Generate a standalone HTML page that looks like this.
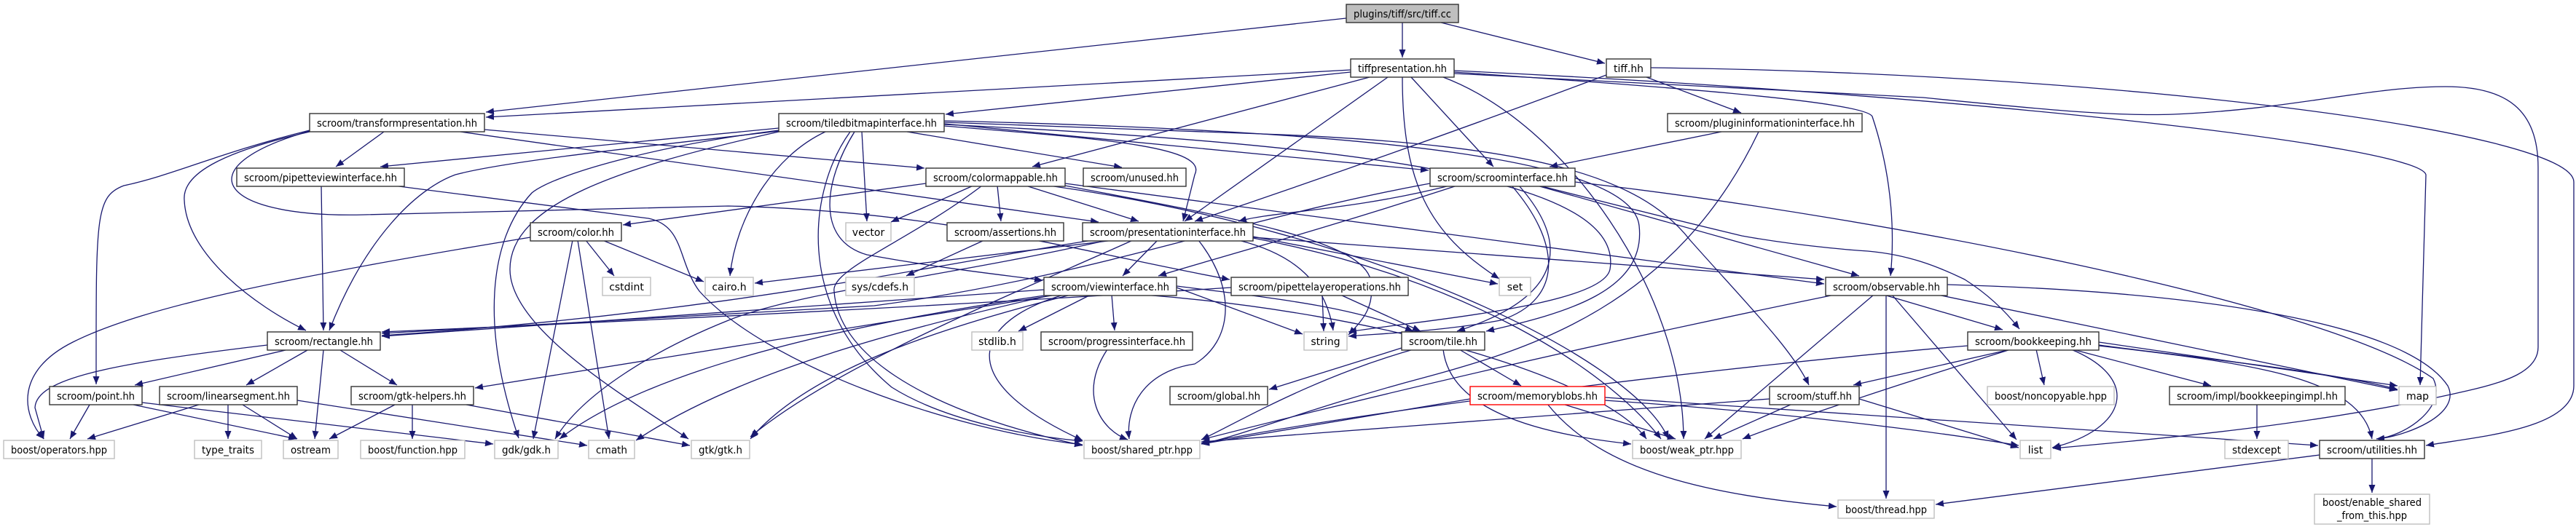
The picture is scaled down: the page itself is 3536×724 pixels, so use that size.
<!DOCTYPE html>
<html><head><meta charset="utf-8"><style>
html,body{margin:0;padding:0;background:#fff}
svg{display:block}
text{font-family:"DejaVu Sans","Liberation Sans",sans-serif;font-size:14px;fill:#000}
.e{fill:none;stroke:#191970;stroke-width:1.3;marker-end:url(#a)}
.n{fill:#fff;stroke:#333;stroke-width:1.4}
.g{fill:#fff;stroke:#bfbfbf;stroke-width:1.4}
</style></head><body>
<svg width="3536" height="724" viewBox="0 0 3536 724" xmlns="http://www.w3.org/2000/svg">
<defs><marker id="a" markerUnits="userSpaceOnUse" markerWidth="12" markerHeight="9" refX="11" refY="4.5" orient="auto"><path d="M0,0 L11,4.5 L0,9 z" fill="#191970"/></marker></defs>
<g>
<path class="e" d="M1848 25 L667 154"/>
<path class="e" d="M1925 31 L1925 79"/>
<path class="e" d="M1978 31 L2203 87"/>
<path class="e" d="M1854 96 L667 161"/>
<path class="e" d="M1854 99 L1298 157"/>
<path class="e" d="M1880 106 L1417 229"/>
<path class="e" d="M1905 106 L1626 304"/>
<path class="e" d="M1937 106 L2050 229"/>
<path class="e" d="M1925 106 C1925 250 1960 320 2058 383"/>
<path class="e" d="M1981 106 C2150 170 2310 400 2311 603"/>
<path class="e" d="M1996 99 C2300 120 2560 140 2570 160 C2600 250 2600 330 2595 379"/>
<path class="e" d="M1996 97 C2700 130 3320 200 3330 240 L3322 529"/>
<path class="e" d="M2266 93 C2900 100 3533 180 3533 250 L3533 530 C3533 590 3400 600 3330 612"/>
<path class="e" d="M1996 101 L2640 134 C2800 150 2900 160 2984 157 C3150 150 3250 119 3357 119 C3440 119 3484 150 3484 230 L3484 477 C3484 510 3440 525 3386 537 C3200 580 3000 600 2818 616"/>
<path class="e" d="M2205 103 C2000 180 1800 250 1640 304"/>
<path class="e" d="M2260 106 L2390 155"/>
<path class="e" d="M2363 181 L2127 229"/>
<path class="e" d="M2414 181 C2300 420 2100 480 1950 520 C1800 560 1700 600 1649 610"/>
<path class="e" d="M527 181 L461 229"/>
<path class="e" d="M425 179 C300 210 240 240 170 255 C130 270 132 300 132 528"/>
<path class="e" d="M425 181 C300 210 250 240 253 275 C256 350 350 420 420 454"/>
<path class="e" d="M665 178 L1269 231"/>
<path class="e" d="M632 181 L1508 305"/>
<path class="e" d="M425 180 C250 230 300 300 500 295 L1000 283 C1300 290 1500 350 1688 384"/>
<path class="e" d="M441 255 L444 454"/>
<path class="e" d="M540 255 L890 300 C940 310 930 360 960 400 C1050 500 1300 590 1486 611"/>
<path class="e" d="M1069 176 L522 229"/>
<path class="e" d="M1069 180 C900 200 700 220 625 240 C570 260 500 330 452 454"/>
<path class="e" d="M1069 179 C900 200 760 240 730 265 C670 330 660 450 712 602"/>
<path class="e" d="M1069 181 C850 230 700 280 700 370 C700 450 850 540 945 603"/>
<path class="e" d="M1133 181 C1060 215 1010 300 1002 379"/>
<path class="e" d="M1183 181 L1190 304"/>
<path class="e" d="M1167 181 C1110 260 1090 420 1224 532 C1300 580 1420 600 1486 606"/>
<path class="e" d="M1173 181 C1130 250 1120 330 1190 350 C1300 370 1380 378 1431 385"/>
<path class="e" d="M1245 181 L1540 230"/>
<path class="e" d="M1296 173 C1500 190 1660 200 1640 240 L1624 304"/>
<path class="e" d="M1296 170 L1961 234"/>
<path class="e" d="M1296 168 L1760 185 C2100 200 2250 240 2320 330 C2400 420 2460 480 2483 529"/>
<path class="e" d="M1296 171 C1900 200 2230 250 2210 370 C2200 420 1950 440 1851 456"/>
<path class="e" d="M1296 166 C1900 180 2240 220 2250 310 C2260 400 2150 430 2040 455"/>
<path class="e" d="M1271 252 L855 309"/>
<path class="e" d="M1336 255 L1223 305"/>
<path class="e" d="M1369 255 L1374 304"/>
<path class="e" d="M1408 255 L1563 304"/>
<path class="e" d="M1348 255 C1250 330 1140 370 1145 400 C1150 480 1250 560 1486 612"/>
<path class="e" d="M1462 252 L2504 390"/>
<path class="e" d="M1440 255 C1900 320 2250 500 2290 603"/>
<path class="e" d="M1462 255 C1700 300 1860 330 1880 380 C1890 420 1870 440 1851 460"/>
<path class="e" d="M728 326 C400 380 200 420 100 470 C20 510 30 570 60 603"/>
<path class="e" d="M804 330 L843 379"/>
<path class="e" d="M786 330 L732 603"/>
<path class="e" d="M793 330 L836 603"/>
<path class="e" d="M827 330 L966 387"/>
<path class="e" d="M1351 330 L1244 379"/>
<path class="e" d="M1529 330 L1036 389"/>
<path class="e" d="M1589 330 L1541 379"/>
<path class="e" d="M1500 330 C1300 360 1000 430 524 461"/>
<path class="e" d="M1720 325 L2056 390"/>
<path class="e" d="M1720 326 L2504 384"/>
<path class="e" d="M1720 327 C2000 380 2200 500 2280 603"/>
<path class="e" d="M1645 330 C1700 400 1690 470 1640 500 C1570 510 1545 560 1550 603"/>
<path class="e" d="M1700 330 C1780 350 1820 390 1830 454"/>
<path class="e" d="M1555 330 C1400 400 1150 500 1030 600"/>
<path class="e" d="M1520 330 C1300 380 1100 400 1000 440 C900 480 800 540 762 603"/>
<path class="e" d="M1990 255 C1850 290 1750 290 1700 304"/>
<path class="e" d="M2000 255 C1800 320 1650 360 1590 379"/>
<path class="e" d="M2110 255 L2552 379"/>
<path class="e" d="M2113 255 C2250 290 2391 324 2391 324 C2480 340 2564 345 2564 345 C2620 350 2660 366 2697 384 C2730 405 2755 430 2772 452"/>
<path class="e" d="M2162 250 C2600 300 3200 420 3340 520 C3360 560 3300 600 3262 603"/>
<path class="e" d="M2075 255 C2140 330 2150 410 2060 440 C1980 455 1900 458 1851 462"/>
<path class="e" d="M2085 255 C2160 340 2140 410 2000 455"/>
<path class="e" d="M1963 252 C1700 300 1500 380 1200 420 L524 458"/>
<path class="e" d="M1497 405 L1398 455"/>
<path class="e" d="M1526 405 L1530 454"/>
<path class="e" d="M1615 395 L1788 459"/>
<path class="e" d="M1615 393 C1750 410 1850 420 1940 455"/>
<path class="e" d="M1460 405 C1340 440 1300 520 1486 605"/>
<path class="e" d="M1433 398 L524 462"/>
<path class="e" d="M1450 405 L652 533"/>
<path class="e" d="M1470 405 C1250 460 1100 520 1030 603"/>
<path class="e" d="M1440 405 C1200 440 900 500 768 603"/>
<path class="e" d="M1445 405 C1200 460 1000 520 873 605"/>
<path class="e" d="M1570 405 C1900 430 2200 520 2260 603"/>
<path class="e" d="M1520 480 C1480 540 1510 590 1548 604"/>
<path class="e" d="M1815 405 L1817 455"/>
<path class="e" d="M1840 405 L1950 455"/>
<path class="e" d="M1690 395 C1300 420 900 440 524 456"/>
<path class="e" d="M1924 478 L1742 535"/>
<path class="e" d="M2003 480 L2088 530"/>
<path class="e" d="M1940 480 C1800 520 1700 580 1649 604"/>
<path class="e" d="M1981 480 C1990 560 2100 595 2239 610"/>
<path class="e" d="M2018 548 L1649 610"/>
<path class="e" d="M2145 555 L2300 603"/>
<path class="e" d="M2124 555 C2200 650 2350 680 2521 696"/>
<path class="e" d="M2203 546 L3182 612"/>
<path class="e" d="M2203 550 C2500 570 2700 600 2771 612"/>
<path class="e" d="M2429 548 L1649 607"/>
<path class="e" d="M2460 555 L2352 603"/>
<path class="e" d="M2552 548 L2771 615"/>
<path class="e" d="M2586 405 L2749 453"/>
<path class="e" d="M2572 405 L2340 603"/>
<path class="e" d="M2589 405 L2589 685"/>
<path class="e" d="M2597 405 L2768 604"/>
<path class="e" d="M2673 391 C3000 400 3300 440 3360 530 C3380 570 3300 600 3262 603"/>
<path class="e" d="M2660 405 L3291 536"/>
<path class="e" d="M2518 405 C2200 470 1900 540 1649 604"/>
<path class="e" d="M2795 480 L2806 529"/>
<path class="e" d="M2845 480 L3035 530"/>
<path class="e" d="M2881 470 L3291 530"/>
<path class="e" d="M2881 474 C3000 490 3200 510 3291 535"/>
<path class="e" d="M2843 480 C2940 520 2920 590 2817 615"/>
<path class="e" d="M2881 475 C3100 500 3240 520 3256 603"/>
<path class="e" d="M2760 480 L2544 529"/>
<path class="e" d="M2701 475 C2400 500 1900 560 1649 609"/>
<path class="e" d="M2760 480 C2600 530 2450 580 2392 603"/>
<path class="e" d="M3098 555 L3098 603"/>
<path class="e" d="M3184 625 L2657 693"/>
<path class="e" d="M3256 630 L3256 677"/>
<path class="e" d="M367 474 C150 500 50 520 48 560 L60 603"/>
<path class="e" d="M392 481 L185 529"/>
<path class="e" d="M422 481 L338 529"/>
<path class="e" d="M444 481 L432 603"/>
<path class="e" d="M467 481 L545 529"/>
<path class="e" d="M123 556 L96 603"/>
<path class="e" d="M183 556 L407 603"/>
<path class="e" d="M195 553 L677 610"/>
<path class="e" d="M273 556 L120 603"/>
<path class="e" d="M313 556 L313 603"/>
<path class="e" d="M333 556 L408 603"/>
<path class="e" d="M408 550 L806 612"/>
<path class="e" d="M542 556 L452 603"/>
<path class="e" d="M566 556 L566 603"/>
<path class="e" d="M640 556 L947 612"/>
</g>
<g>
<rect x="1848" y="6" width="154" height="25" fill="#bfbfbf" stroke="#333" stroke-width="1.4"/><text x="1925" y="24" text-anchor="middle" textLength="134" lengthAdjust="spacingAndGlyphs">plugins/tiff/src/tiff.cc</text>
<rect class="n" x="1854" y="81" width="142" height="25"/><text x="1925" y="99" text-anchor="middle" textLength="122" lengthAdjust="spacingAndGlyphs">tiffpresentation.hh</text>
<rect class="n" x="2205" y="81" width="61" height="25"/><text x="2235.5" y="99" text-anchor="middle" textLength="41" lengthAdjust="spacingAndGlyphs">tiff.hh</text>
<rect class="n" x="2289" y="156" width="267" height="25"/><text x="2422.5" y="174" text-anchor="middle" textLength="247" lengthAdjust="spacingAndGlyphs">scroom/plugininformationinterface.hh</text>
<rect class="n" x="425" y="156" width="240" height="25"/><text x="545" y="174" text-anchor="middle" textLength="220" lengthAdjust="spacingAndGlyphs">scroom/transformpresentation.hh</text>
<rect class="n" x="1069" y="156" width="227" height="25"/><text x="1182.5" y="174" text-anchor="middle" textLength="207" lengthAdjust="spacingAndGlyphs">scroom/tiledbitmapinterface.hh</text>
<rect class="n" x="325" y="231" width="230" height="25"/><text x="440" y="249" text-anchor="middle" textLength="210" lengthAdjust="spacingAndGlyphs">scroom/pipetteviewinterface.hh</text>
<rect class="n" x="1271" y="231" width="191" height="25"/><text x="1366.5" y="249" text-anchor="middle" textLength="171" lengthAdjust="spacingAndGlyphs">scroom/colormappable.hh</text>
<rect class="n" x="1487" y="231" width="141" height="25"/><text x="1557.5" y="249" text-anchor="middle" textLength="121" lengthAdjust="spacingAndGlyphs">scroom/unused.hh</text>
<rect class="n" x="1963" y="231" width="199" height="25"/><text x="2062.5" y="249" text-anchor="middle" textLength="179" lengthAdjust="spacingAndGlyphs">scroom/scroominterface.hh</text>
<rect class="g" x="1161" y="306" width="62" height="25"/><text x="1192" y="324" text-anchor="middle">vector</text>
<rect class="n" x="1300" y="306" width="160" height="25"/><text x="1380" y="324" text-anchor="middle" textLength="140" lengthAdjust="spacingAndGlyphs">scroom/assertions.hh</text>
<rect class="n" x="1486" y="306" width="234" height="25"/><text x="1603" y="324" text-anchor="middle" textLength="214" lengthAdjust="spacingAndGlyphs">scroom/presentationinterface.hh</text>
<rect class="n" x="728" y="306" width="125" height="25"/><text x="790.5" y="324" text-anchor="middle" textLength="105" lengthAdjust="spacingAndGlyphs">scroom/color.hh</text>
<rect class="g" x="827" y="381" width="66" height="25"/><text x="860" y="399" text-anchor="middle">cstdint</text>
<rect class="g" x="968" y="381" width="66" height="25"/><text x="1001" y="399" text-anchor="middle">cairo.h</text>
<rect class="g" x="1161" y="381" width="94" height="25"/><text x="1208" y="399" text-anchor="middle">sys/cdefs.h</text>
<rect class="n" x="1433" y="381" width="182" height="25"/><text x="1524" y="399" text-anchor="middle" textLength="162" lengthAdjust="spacingAndGlyphs">scroom/viewinterface.hh</text>
<rect class="n" x="1690" y="381" width="243" height="25"/><text x="1811.5" y="399" text-anchor="middle" textLength="223" lengthAdjust="spacingAndGlyphs">scroom/pipettelayeroperations.hh</text>
<rect class="g" x="2058" y="381" width="43" height="25"/><text x="2079.5" y="399" text-anchor="middle">set</text>
<rect class="n" x="2506" y="381" width="167" height="25"/><text x="2589.5" y="399" text-anchor="middle" textLength="147" lengthAdjust="spacingAndGlyphs">scroom/observable.hh</text>
<rect class="n" x="367" y="456" width="155" height="25"/><text x="444.5" y="474" text-anchor="middle" textLength="135" lengthAdjust="spacingAndGlyphs">scroom/rectangle.hh</text>
<rect class="g" x="1334" y="456" width="70" height="25"/><text x="1369" y="474" text-anchor="middle">stdlib.h</text>
<rect class="n" x="1429" y="456" width="208" height="25"/><text x="1533" y="474" text-anchor="middle" textLength="188" lengthAdjust="spacingAndGlyphs">scroom/progressinterface.hh</text>
<rect class="g" x="1790" y="456" width="59" height="25"/><text x="1819.5" y="474" text-anchor="middle">string</text>
<rect class="n" x="1924" y="456" width="114" height="25"/><text x="1981" y="474" text-anchor="middle" textLength="94" lengthAdjust="spacingAndGlyphs">scroom/tile.hh</text>
<rect class="n" x="2701" y="456" width="180" height="25"/><text x="2791" y="474" text-anchor="middle" textLength="160" lengthAdjust="spacingAndGlyphs">scroom/bookkeeping.hh</text>
<rect class="n" x="68" y="531" width="127" height="25"/><text x="131.5" y="549" text-anchor="middle" textLength="107" lengthAdjust="spacingAndGlyphs">scroom/point.hh</text>
<rect class="n" x="219" y="531" width="189" height="25"/><text x="313.5" y="549" text-anchor="middle" textLength="169" lengthAdjust="spacingAndGlyphs">scroom/linearsegment.hh</text>
<rect class="n" x="482" y="531" width="168" height="25"/><text x="566" y="549" text-anchor="middle" textLength="148" lengthAdjust="spacingAndGlyphs">scroom/gtk-helpers.hh</text>
<rect class="n" x="1606" y="531" width="134" height="25"/><text x="1673" y="549" text-anchor="middle" textLength="114" lengthAdjust="spacingAndGlyphs">scroom/global.hh</text>
<rect x="2018" y="531" width="185" height="25" fill="#fff" stroke="#ff0000" stroke-width="1.4"/><text x="2110.5" y="549" text-anchor="middle" textLength="165" lengthAdjust="spacingAndGlyphs">scroom/memoryblobs.hh</text>
<rect class="n" x="2429" y="531" width="123" height="25"/><text x="2490.5" y="549" text-anchor="middle" textLength="103" lengthAdjust="spacingAndGlyphs">scroom/stuff.hh</text>
<rect class="g" x="2728" y="531" width="174" height="25"/><text x="2815" y="549" text-anchor="middle" textLength="154" lengthAdjust="spacingAndGlyphs">boost/noncopyable.hpp</text>
<rect class="n" x="2978" y="531" width="241" height="25"/><text x="3098.5" y="549" text-anchor="middle" textLength="221" lengthAdjust="spacingAndGlyphs">scroom/impl/bookkeepingimpl.hh</text>
<rect class="g" x="3293" y="531" width="51" height="25"/><text x="3318.5" y="549" text-anchor="middle">map</text>
<rect class="g" x="5" y="605" width="152" height="25"/><text x="81" y="623" text-anchor="middle" textLength="132" lengthAdjust="spacingAndGlyphs">boost/operators.hpp</text>
<rect class="g" x="267" y="605" width="92" height="25"/><text x="313" y="623" text-anchor="middle" textLength="72" lengthAdjust="spacingAndGlyphs">type_traits</text>
<rect class="g" x="389" y="605" width="75" height="25"/><text x="426.5" y="623" text-anchor="middle" textLength="55" lengthAdjust="spacingAndGlyphs">ostream</text>
<rect class="g" x="495" y="605" width="143" height="25"/><text x="566.5" y="623" text-anchor="middle" textLength="123" lengthAdjust="spacingAndGlyphs">boost/function.hpp</text>
<rect class="g" x="679" y="605" width="87" height="25"/><text x="722.5" y="623" text-anchor="middle" textLength="67" lengthAdjust="spacingAndGlyphs">gdk/gdk.h</text>
<rect class="g" x="808" y="605" width="63" height="25"/><text x="839.5" y="623" text-anchor="middle" textLength="43" lengthAdjust="spacingAndGlyphs">cmath</text>
<rect class="g" x="949" y="605" width="80" height="25"/><text x="989" y="623" text-anchor="middle" textLength="60" lengthAdjust="spacingAndGlyphs">gtk/gtk.h</text>
<rect class="g" x="1488" y="605" width="159" height="25"/><text x="1567.5" y="623" text-anchor="middle" textLength="139" lengthAdjust="spacingAndGlyphs">boost/shared_ptr.hpp</text>
<rect class="g" x="2241" y="605" width="149" height="25"/><text x="2315.5" y="623" text-anchor="middle" textLength="129" lengthAdjust="spacingAndGlyphs">boost/weak_ptr.hpp</text>
<rect class="g" x="2773" y="605" width="42" height="25"/><text x="2794" y="623" text-anchor="middle">list</text>
<rect class="g" x="3054" y="605" width="87" height="25"/><text x="3097.5" y="623" text-anchor="middle" textLength="67" lengthAdjust="spacingAndGlyphs">stdexcept</text>
<rect class="n" x="3184" y="605" width="144" height="25"/><text x="3256" y="623" text-anchor="middle" textLength="124" lengthAdjust="spacingAndGlyphs">scroom/utilities.hh</text>
<rect class="g" x="2523" y="687" width="132" height="25"/><text x="2589" y="705" text-anchor="middle" textLength="112" lengthAdjust="spacingAndGlyphs">boost/thread.hpp</text>
<rect class="g" x="3177" y="679" width="158" height="41"/><text x="3256" y="695" text-anchor="middle" textLength="136" lengthAdjust="spacingAndGlyphs">boost/enable_shared</text><text x="3256" y="713" text-anchor="middle" textLength="96" lengthAdjust="spacingAndGlyphs">_from_this.hpp</text>
</g>
</svg>
</body></html>
